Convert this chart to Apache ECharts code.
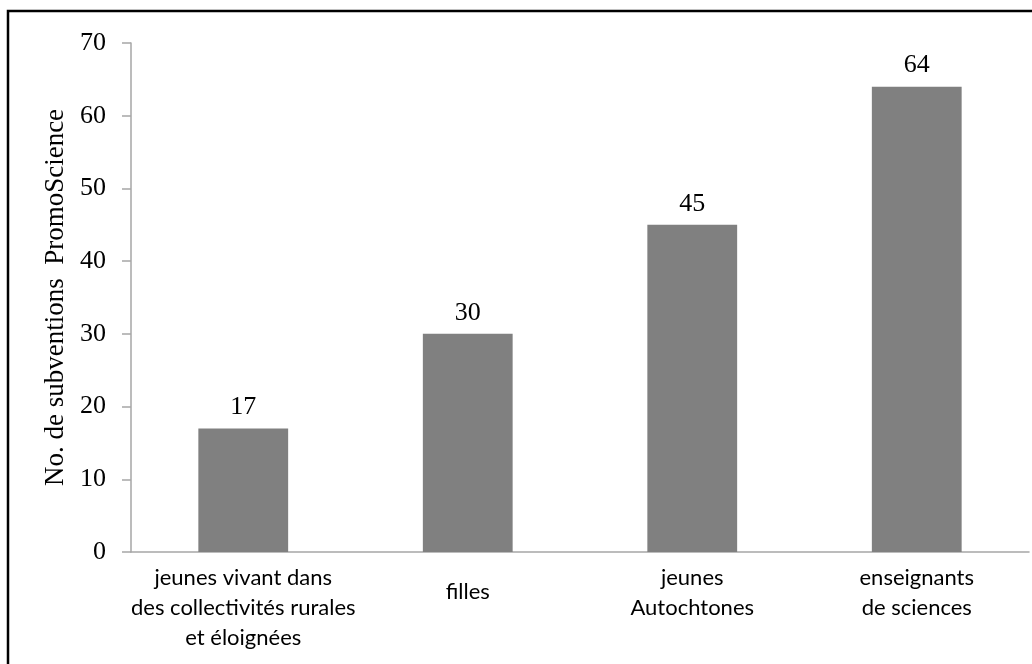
<!DOCTYPE html>
<html>
<head>
<meta charset="utf-8">
<script src="https://cdn.jsdelivr.net/npm/echarts@6/dist/echarts.min.js"></script>
<style>
html,body{margin:0;padding:0;background:#fff;}
#chart{width:1032px;height:664px;}
</style>
</head>
<body>
<div id="chart"></div>
<script>
var categories = ['jeunes vivant dans\ndes collectivités rurales\net éloignées', 'filles', 'jeunes\nAutochtones', 'enseignants\nde sciences'];
var values = [17, 30, 45, 64];
var yTicks = [0, 10, 20, 30, 40, 50, 60, 70];
var yAxisName = 'No. de subventions  PromoScience';

var chart = echarts.init(document.getElementById('chart'));
var serif = '"Liberation Serif", "DejaVu Serif", serif';
var sans = 'Lato, "Open Sans", sans-serif';

chart.setOption({
  backgroundColor: '#ffffff',
  animation: false,
  graphic: [{
    type: 'rect',
    shape: { x: 8, y: 11, width: 1100, height: 1000 },
    style: { fill: 'none', stroke: '#000', lineWidth: 2.5 },
    silent: true
  }],
  grid: { left: 131, right: 3, top: 43, bottom: 112, containLabel: false },
  xAxis: {
    type: 'category',
    data: categories.map(function (c, i) {
      return c.indexOf('\n') < 0 ? { value: c, textStyle: { padding: [14, 0, 0, 0] } } : c;
    }),
    axisLine: { show: true, lineStyle: { color: '#a6a6a6', width: 1.5 } },
    axisTick: { show: false },
    axisLabel: {
      interval: 0,
      margin: 11,
      fontFamily: sans,
      fontSize: 22,
      lineHeight: 30,
      color: '#000'
    }
  },
  yAxis: {
    type: 'value',
    min: yTicks[0],
    max: yTicks[yTicks.length - 1],
    interval: 10,
    name: yAxisName,
    nameLocation: 'middle',
    nameRotate: 90,
    nameGap: 61,
    nameTextStyle: { fontFamily: serif, fontSize: 27, color: '#000' },
    axisLine: { show: true, lineStyle: { color: '#a6a6a6', width: 1.5 } },
    axisTick: { show: true, length: 9, lineStyle: { color: '#a6a6a6', width: 1.5 } },
    splitLine: { show: false },
    axisLabel: { margin: 25, fontFamily: serif, fontSize: 26, color: '#000' }
  },
  series: [{
    type: 'bar',
    data: values,
    barWidth: '40%',
    itemStyle: { color: '#808080' },
    label: {
      show: true,
      position: 'top',
      distance: 8,
      fontFamily: serif,
      fontSize: 26,
      color: '#000'
    }
  }]
});
</script>
</body>
</html>
